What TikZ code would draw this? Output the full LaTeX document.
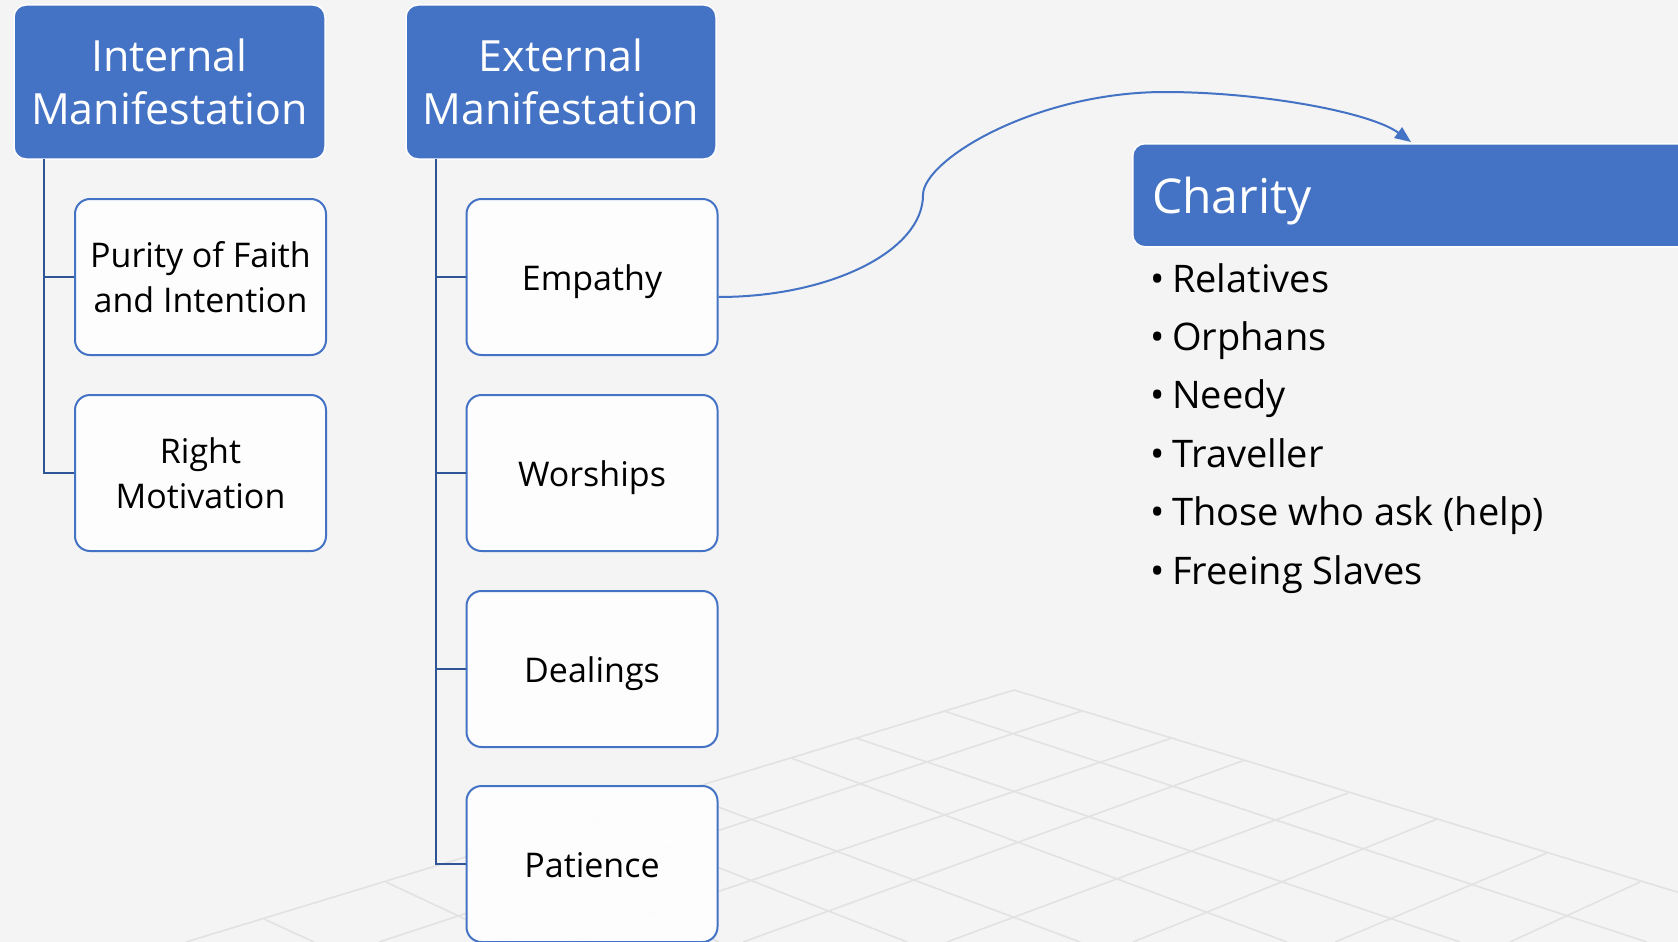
\documentclass[tikz,border=0pt]{standalone}
\usepackage{fontspec}
\setmainfont{Open Sans}
\usetikzlibrary{arrows.meta}
\definecolor{bg}{HTML}{F4F4F4}
\definecolor{accent}{HTML}{4472C4}
\definecolor{connc}{HTML}{2F5597}
\definecolor{gridc}{HTML}{E2E2E2}
\begin{document}
\begin{tikzpicture}[x=1pt,y=-1pt,
  hdr/.style={draw=white, line width=1.5pt, fill=accent, rounded corners=12pt, text=white,
    align=center, font=\fontsize{43}{53}\selectfont, inner sep=0pt},
  child/.style={draw=accent, line width=2pt, fill=white, fill opacity=0.9, text opacity=1,
    rounded corners=15pt, align=center, font=\fontsize{34}{45}\selectfont,
    minimum width=251pt, minimum height=156pt, inner sep=0pt},
  oneline/.style={text height=26pt, text depth=0pt},
  trunk/.style={draw=connc, line width=2.5pt},
  gridline/.style={draw=gridc, line width=1.6pt},
  item/.style={anchor=base west, font=\fontsize{38}{46}\selectfont, inner sep=0pt},
  linkarrow/.style={draw=accent, line width=2pt, -{Triangle[length=16pt,width=13pt]}}
]
\clip (0,0) rectangle (1678,942);
\fill[bg] (0,0) rectangle (1678,942);

% perspective floor grid
\draw[gridline] (1014,690) -- (186,942);
\draw[gridline] (1014,690) -- (1700,899);
\draw[gridline] (1082,711) -- (379,942);
\draw[gridline] (1172,738) -- (569,942);
\draw[gridline] (1245,760) -- (743,942);
\draw[gridline] (1348,793) -- (947,942);
\draw[gridline] (1437,819) -- (1133,942);
\draw[gridline] (1547,853) -- (1335,942);
\draw[gridline] (1640,882) -- (1510,942);
\draw[gridline] (944,711) -- (1647,942);
\draw[gridline] (856,738) -- (1460,942);
\draw[gridline] (791,758) -- (1287,942);
\draw[gridline] (678,792) -- (1080,942);
\draw[gridline] (593,818) -- (907,942);
\draw[gridline] (498,847) -- (719,942);
\draw[gridline] (386,882) -- (514,942);
\draw[gridline] (264,919) -- (314,942);

% headers
\node[hdr, minimum width=311pt, minimum height=154pt] (ih) at (169.5,82) {Internal\\Manifestation};
\node[hdr, minimum width=310pt, minimum height=154pt] (eh) at (561,82) {External\\Manifestation};

% children
\node[child] (pf) at (200.5,277) {Purity of Faith\\and Intention};
\node[child] (rm) at (200.5,473) {Right\\Motivation};
\node[child, oneline] (emp) at (592,277) {Empathy};
\node[child, oneline] (wor) at (592,473) {Worships};
\node[child, oneline] (dea) at (592,669) {Dealings};
\node[child, oneline] (pat) at (592,864) {Patience};

% trunks
\coordinate (itop) at (44,159);
\coordinate (etop) at (436,159);
\draw[trunk] (itop) |- (rm.west);
\draw[trunk] (itop |- pf.west) -- (pf.west);
\draw[trunk] (etop) |- (pat.west);
\draw[trunk] (etop |- emp.west) -- (emp.west);
\draw[trunk] (etop |- wor.west) -- (wor.west);
\draw[trunk] (etop |- dea.west) -- (dea.west);

% charity box
\node[fill=accent, draw=white, line width=1.5pt, rounded corners=12pt, anchor=north west,
  minimum width=620pt, minimum height=103pt] (ch) at (1132,143) {};
\node[anchor=base west, inner sep=0pt, text=white, font=\fontsize{48}{56}\selectfont] (cht) at (1152,213) {Charity};

% list
\node[item] (l1) at (1150,292) {\makebox[22pt][l]{•}Relatives};
\node[item] (l2) at (1150,350) {\makebox[22pt][l]{•}Orphans};
\node[item] (l3) at (1150,408) {\makebox[22pt][l]{•}Needy};
\node[item] (l4) at (1150,467) {\makebox[22pt][l]{•}Traveller};
\node[item] (l5) at (1150,525) {\makebox[22pt][l]{•}Those who ask (help)};
\node[item] (l6) at (1150,584) {\makebox[22pt][l]{•}Freeing Slaves};

% link arrow
\coordinate (arrowend) at (1411,142);
\draw[linkarrow] ([yshift=-20pt]emp.east) .. controls (830,297) and (923,251) .. (923,195)
  .. controls (923,160) and (1035,92) .. (1165,92)
  .. controls (1260,92) and (1370,112) .. (arrowend);
\end{tikzpicture}
\end{document}
